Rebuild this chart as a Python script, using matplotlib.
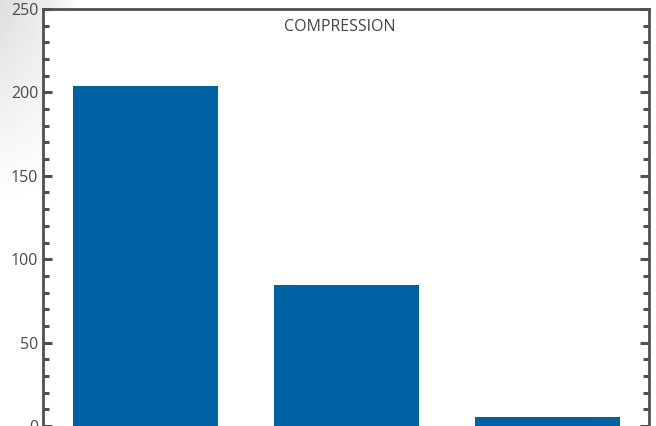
import numpy as np
import matplotlib
matplotlib.use('Agg')
import matplotlib.pyplot as plt
from matplotlib.ticker import MultipleLocator

plt.rcParams['font.family'] = ['Open Sans', 'DejaVu Sans']

# data
categories = ['A', 'B', 'C']
values = [204, 84.5, 5.5]
title = 'COMPRESSION'

bar_color = '#0062a3'
spine_color = '#505050'
text_color = '#4a4a4a'

fig = plt.figure(figsize=(6.56, 4.26), dpi=100)

# soft grey shading in the top left corner of the page
bg = fig.add_axes([0, 0, 1, 1])
h, w = 426, 656
yy, xx = np.mgrid[0:h, 0:w]
shade = 0.13 * np.clip(1 - yy / 200, 0, 1) * np.clip(1 - xx / 75, 0, 1) ** 0.6
bg.imshow(1 - shade, cmap='gray', vmin=0, vmax=1, aspect='auto', extent=[0, 1, 0, 1])
bg.axis('off')

ax = fig.add_axes([43 / 656, 0, 606 / 656, 417 / 426])
ax.set_facecolor('white')

x = np.arange(len(categories))
ax.bar(x, values, width=0.72, color=bar_color, zorder=2)

ax.set_xlim(-0.51, 2.505)
ax.set_ylim(0, 250)

ax.yaxis.set_major_locator(MultipleLocator(50))
ax.yaxis.set_minor_locator(MultipleLocator(10))
ax.set_xticks([])

ax.tick_params(axis='y', which='both', direction='in', left=True, right=True,
               color=spine_color, labelcolor=text_color, labelsize=11.5, pad=3.5)
ax.tick_params(axis='y', which='major', length=6.5, width=2.2)
ax.tick_params(axis='y', which='minor', length=4.2, width=2.2)

for side in ['left', 'right', 'top']:
    ax.spines[side].set_color(spine_color)
    ax.spines[side].set_linewidth(2)
ax.spines['bottom'].set_visible(False)

ax.text(0.49, 0.957, title, transform=ax.transAxes, ha='center', va='center',
        fontsize=11.5, color='#444444')

fig.savefig('out.png', dpi=100)
